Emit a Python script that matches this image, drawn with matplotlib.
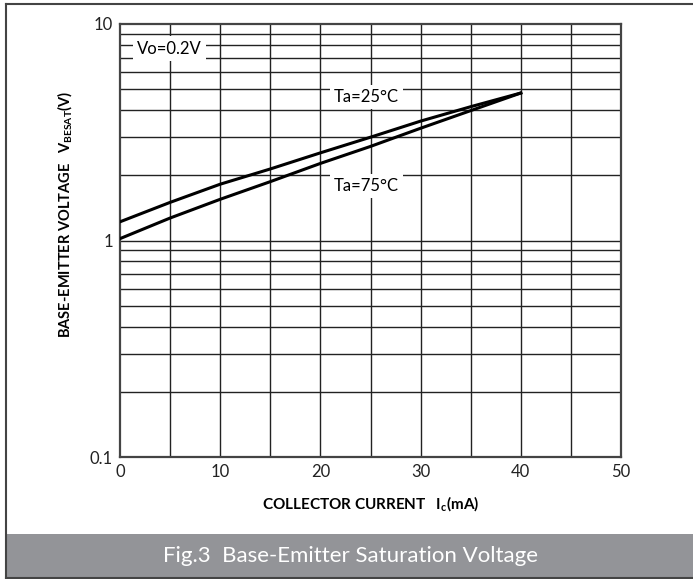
import matplotlib
matplotlib.use('Agg')
import matplotlib.pyplot as plt
from matplotlib.patches import Rectangle
from matplotlib.lines import Line2D

plt.rcParams['font.family'] = ['Lato', 'DejaVu Sans']
plt.rcParams['mathtext.fontset'] = 'custom'
plt.rcParams['mathtext.rm'] = 'Lato'
plt.rcParams['mathtext.bf'] = 'Lato:bold'

# collector current (mA) and base-emitter saturation voltage (V)
ic = [0, 5, 10, 15, 20, 25, 30, 35, 40]
vbe_25c = [1.22, 1.50, 1.82, 2.14, 2.54, 3.00, 3.56, 4.15, 4.80]
vbe_75c = [1.02, 1.27, 1.55, 1.87, 2.27, 2.72, 3.30, 3.98, 4.80]

x_ticks = [0, 10, 20, 30, 40, 50]
y_ticks = [0.1, 1, 10]
y_tick_labels = ['0.1', '1', '10']

fig = plt.figure(figsize=(6.93, 5.79), dpi=100)
ax = fig.add_axes([120 / 693, 1 - 457 / 579, 501 / 693, 433 / 579])

# grid
for x in range(5, 50, 5):
    ax.axvline(x, color='#222222', lw=1.0, zorder=1)
for dec in [0.1, 1]:
    for k in range(1, 10):
        ax.axhline(dec * k, color='#222222', lw=1.0, zorder=1)

ax.plot(ic, vbe_25c, color='black', lw=2.2, zorder=3)
ax.plot(ic, vbe_75c, color='black', lw=2.2, zorder=3)

ax.set_yscale('log')
ax.set_xlim(0, 50)
ax.set_ylim(0.1, 10)
ax.set_xticks(x_ticks)
ax.set_xticklabels([str(v) for v in x_ticks])
ax.set_yticks(y_ticks)
ax.set_yticklabels(y_tick_labels)
ax.minorticks_off()
ax.tick_params(length=0, labelsize=12, pad=5, colors='#222222')
for s in ax.spines.values():
    s.set_color('#444444')
    s.set_linewidth(1.6)

box = dict(facecolor='white', edgecolor='none', pad=3)
ax.text(4.9, 7.7, 'Vo=0.2V', ha='center', va='center', fontsize=12, bbox=box, zorder=4)
ax.text(24.6, 4.6, 'Ta=25°C', ha='center', va='center', fontsize=12, bbox=box, zorder=4)
ax.text(24.6, 1.78, 'Ta=75°C', ha='center', va='center', fontsize=12, bbox=box, zorder=4)

ax.set_xlabel(r'COLLECTOR CURRENT   $\mathbf{I_c}$(mA)', fontsize=11, fontweight='bold', labelpad=10)
ax.set_ylabel(r'BASE-EMITTER VOLTAGE   $\mathbf{V_{BESAT}}$(V)', fontsize=10.5, fontweight='bold')
ax.yaxis.set_label_coords(-0.092, 0.56)

# caption bar and frame
fig.patches.append(Rectangle((7 / 693, 2 / 579), 1, 43 / 579, transform=fig.transFigure,
                             facecolor='#939498', edgecolor='none'))
fig.text(351 / 693, 1 - 556 / 579, 'Fig.3  Base-Emitter Saturation Voltage', color='white',
         fontsize=16, ha='center', va='center')
fig.lines.append(Line2D([6 / 693, 6 / 693], [1.5 / 579, 1 - 3.5 / 579], transform=fig.transFigure,
                        color='#444444', lw=1.5))
fig.lines.append(Line2D([6 / 693, 1], [1 - 3.5 / 579, 1 - 3.5 / 579], transform=fig.transFigure,
                        color='#444444', lw=1.5))
fig.lines.append(Line2D([6 / 693, 1], [1.5 / 579, 1.5 / 579], transform=fig.transFigure,
                        color='#444444', lw=1.5))

fig.savefig('out.png', dpi=100)
